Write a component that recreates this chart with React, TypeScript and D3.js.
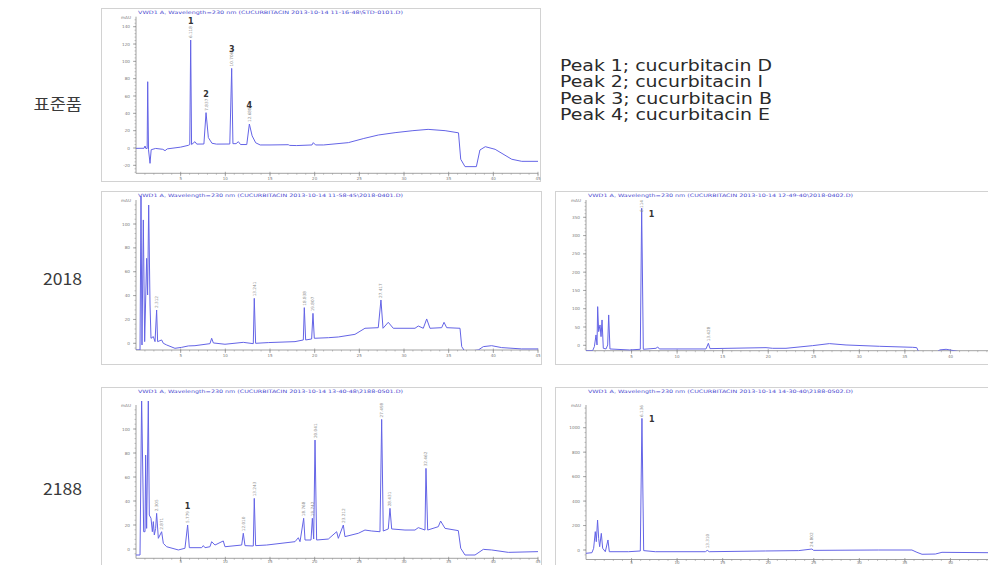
import React from "react";
import * as d3 from "d3";

type Pt = [number, number];
type Peak = [number, number, string, string?, string?];

const timeTicks = [5, 10, 15, 20, 25, 30, 35, 40, 45];

const stdYTicks = [-20, 0, 20, 40, 60, 80, 100, 120, 140];
const a2018YTicks = [0, 20, 40, 60, 80, 100];
const a2188YTicks = [0, 20, 40, 60, 80, 100];
const b2018YTicks = [0, 50, 100, 150, 200, 250, 300, 350];
const b2188YTicks = [0, 200, 400, 600, 800, 1000];

const rowLabels = ["표준품", "2018", "2188"];
const legendLines = [
  "Peak 1; cucurbitacin D",
  "Peak 2; cucurbitacin I",
  "Peak 3; cucurbitacin B",
  "Peak 4; cucurbitacin E",
];

const stdTrace: Pt[] = [
  [0, -0.4], [0.9, -0.3], [1.01, 2.3], [1.1, -0.5], [1.25, -0.5], [1.31, 76.5], [1.4, -2], [1.57, -17.7], [1.7, -2],
  [2.2, -0.5], [3.0, -1.5], [3.25, -3.1], [3.5, -1], [5.0, 1], [5.86, 3.1], [6.02, 4], [6.12, 124.6], [6.22, 4],
  [6.6, 7.3], [6.8, 4.5], [7.6, 4.6], [7.84, 40.8], [8.1, 12], [8.5, 5.5], [9, 4.5], [10.5, 4.6], [10.71, 91.9],
  [10.85, 5], [11.2, 5], [11.46, 7.3], [11.7, 4], [12.4, 4], [12.69, 27.7], [13.0, 14], [13.4, 6], [13.9, 3.5],
  [15, 3.5], [17.05, 3.8], [17.2, 3], [17.99, 2.8], [19.7, 3.5], [19.85, 6.2], [20.1, 3.5], [21, 3.5], [23.77, 6.2],
  [25.5, 11], [27.13, 15], [29.0, 17.7], [31, 20], [32.7, 21.5], [34.6, 20], [36.1, 17.5], [36.35, -13],
  [36.83, -21.5], [38.1, -21.5], [38.5, -2.3], [39.1, 1.5], [40.2, -1.5], [42.06, -13], [43.18, -15.4], [45, -15.4],
];

const a2018Trace: Pt[] = [
  [0, -5.6], [0.45, -5.6], [0.56, 125], [0.67, -1.4], [0.82, 103.4], [0.97, 1.4], [1.19, 71.2], [1.3, 40.5],
  [1.42, 115.9], [1.57, 32.1], [1.68, 4.2], [1.94, 5.6], [2.13, 1.4], [2.31, 27.9], [2.42, 1.4], [2.87, 2.8],
  [3.06, 0], [3.43, -1.4], [4.36, -4.2], [5.11, -3.4], [5.86, -2.2], [6.6, -2], [8.28, -0.3], [8.47, 4.2],
  [8.66, 0.3], [9.96, -0.8], [12.01, 0.8], [13.13, -0.3], [13.24, 37.7], [13.39, 0], [14.81, 0.6], [17.8, 1.4],
  [18.73, 2.8], [18.84, 29.9], [18.99, 2.8], [19.66, 3.6], [19.81, 25.1], [19.96, 4.2], [21.53, 4.7], [22.65, 5.3],
  [24.51, 7.5], [25.63, 12.6], [27.12, 13.1], [27.42, 36.3], [27.65, 12.6], [28.24, 17.6], [28.8, 12.6],
  [31.23, 12.6], [31.6, 14.5], [32.16, 12.6], [32.54, 20.4], [32.91, 12.6], [34.22, 13.1], [34.48, 17.6],
  [34.78, 13.1], [36.27, 12.6], [36.46, -2.8], [36.83, -7], [38.32, -5.6], [38.88, -2.8], [39.81, -2],
  [40.93, -3.6], [43.17, -4.7], [45, -4.7],
];

const a2188Trace: Pt[] = [
  [0, -5], [0.45, -5], [0.63, 126], [0.86, 14.4], [1.01, 14.4], [1.08, 78.3], [1.19, 17.2], [1.38, 124],
  [1.49, 28.3], [1.68, 25.6], [1.83, 14.4], [1.94, 22.8], [2.05, 11.7], [2.2, 17.2], [2.31, 29.7], [2.5, 8.9],
  [2.87, 14.4], [3.06, 4.7], [3.43, 1.9], [4.74, -0.8], [5.48, 0.6], [5.78, 20], [5.97, 1.1], [7.35, 1.1],
  [7.54, 2.8], [7.72, 1.1], [8.28, 1.9], [8.47, 6.1], [8.84, 3.3], [9.77, 6.7], [9.96, 1.9], [11.83, 3.3],
  [12.01, 13.1], [12.2, 2.8], [13.13, 2.5], [13.24, 42.2], [13.39, 2.8], [14.62, 3.3], [17.8, 6.1], [18.17, 9.4],
  [18.36, 6.1], [18.77, 25.6], [18.92, 7.5], [19.59, 7.5], [19.74, 25.6], [19.89, 8.3], [20.04, 90.8], [20.22, 7.5],
  [21.53, 8.3], [22.46, 14.4], [22.65, 8.9], [23.21, 20], [23.39, 10.3], [24.89, 13.1], [25.63, 15.8],
  [26.38, 15], [27.31, 14.4], [27.5, 108], [27.68, 15], [28.24, 16.7], [28.43, 33.9], [28.62, 16.7], [30.11, 15.8],
  [31.23, 15.8], [31.6, 17.8], [32.35, 15.8], [32.46, 67.2], [32.65, 15.8], [33.84, 18.6], [34.1, 23.3],
  [34.59, 17.2], [36.08, 15.3], [36.35, 0.6], [36.83, -5], [37.95, -5], [38.88, -0.3], [39.81, -0.8],
  [41.68, -2.8], [45, -2.2],
];

const b2018Trace: Pt[] = [
  [0, -14.6], [0.73, -14.6], [0.92, -3.6], [1.1, 28.3], [1.21, 0.9], [1.28, 105.7], [1.39, 37.4], [1.54, 55.6],
  [1.65, 23.7], [1.76, 69.3], [1.9, -8.2], [2.2, -10], [2.38, 0.9], [2.49, 83], [2.63, -10], [4.76, -12.8],
  [5.96, -10.9], [6.11, 374.7], [6.29, -10.9], [7.68, -8.2], [7.87, -4.6], [8.05, -10], [13.17, -10], [13.43, 5.5],
  [13.61, -9.1], [19.76, -6.4], [20.49, -8.2], [21.95, -8.2], [24.88, -0.9], [26.71, 4.6], [28.54, 0.9],
  [32.2, -2.7], [35.86, -5.5], [36.3, -6.4], [36.59, -21.9], [37.32, -26.4], [38.24, -26.4], [38.79, -12.8],
  [39.52, -10.9], [40.98, -17.3], [42.44, -23.7], [44.27, -24.6], [45, -24.6],
];

const b2188Trace: Pt[] = [
  [0, -27], [0.65, -22], [0.84, 14], [1.02, 150], [1.13, 68], [1.27, 245], [1.39, 95], [1.5, 27], [1.68, 136],
  [1.83, 14], [2.12, -14], [2.41, 82], [2.56, -14], [4.68, -14], [5.96, -8], [6.14, 1076], [6.33, -5], [7.61, -14],
  [13.1, -14], [13.31, -3], [13.53, -14], [19.68, -8], [23.34, -5], [24.8, 8], [24.98, -3], [32.11, 0], [35.77, 0],
  [36.32, -19], [36.88, -35], [38.34, -33], [39.07, -19], [44.2, -22], [45, -22],
];

const stdPeaks: Peak[] = [
  [6.12, 124.6, "6.118", "1"], [7.84, 40.8, "7.837", "2"], [10.71, 91.9, "10.706", "3"], [12.69, 27.7, "12.688", "4"],
];
const a2018Peaks: Peak[] = [
  [2.31, 27.9, "2.312"], [13.24, 37.7, "13.241"], [18.84, 29.9, "18.838"], [19.81, 25.1, "19.807"], [27.42, 36.3, "27.417"],
];
const a2188Peaks: Peak[] = [
  [2.31, 29.7, "2.305"], [2.87, 14.4, "2.871"], [5.78, 20, "5.779", "1"], [12.01, 13.1, "12.010"], [13.24, 42.2, "13.243"],
  [18.77, 25.6, "18.768"], [19.74, 25.6, "19.742"], [20.04, 90.8, "20.041"], [23.21, 20, "23.212"], [27.5, 108, "27.498"],
  [28.43, 33.9, "28.431"], [32.46, 67.2, "32.462"],
];
const b2018Peaks: Peak[] = [[6.11, 374.7, "6.114", "1", "right"], [13.43, 5.5, "13.428"]];
const b2188Peaks: Peak[] = [[6.14, 1076, "6.136", "1", "right"], [13.31, -3, "13.310"], [24.8, 8, "24.802"]];

const headers = [
  "VWD1 A, Wavelength=230 nm (CUCURBITACIN 2013-10-14 11-16-48\\STD-0101.D)",
  "VWD1 A, Wavelength=230 nm (CUCURBITACIN 2013-10-14 11-58-45\\2018-0401.D)",
  "VWD1 A, Wavelength=230 nm (CUCURBITACIN 2013-10-14 13-40-48\\2188-0501.D)",
  "VWD1 A, Wavelength=230 nm (CUCURBITACIN 2013-10-14 12-49-40\\2018-0402.D)",
  "VWD1 A, Wavelength=230 nm (CUCURBITACIN 2013-10-14 14-30-40\\2188-0502.D)",
];

const TRACE = "#6464e6";
const AXIS = "#8a8a8a";
const LBL = "#7a7a7a";

type PanelCfg = {
  id: string;
  fx: number; fy: number; fw: number; fh: number;
  x0: number; x1: number;
  yZero: number; yRefPx: number; yRefVal: number;
  top: number; bottom: number; labelGap: number;
  data: Pt[]; yTicks: number[]; peaks: Peak[]; header: string;
};

function Panel({ c }: { c: PanelCfg }) {
  const x = d3.scaleLinear().domain([0, 45]).range([c.x0, c.x1]);
  const y = d3.scaleLinear().domain([0, c.yRefVal]).range([c.yZero, c.yRefPx]);
  const line = d3.line<Pt>().x((d) => x(d[0])).y((d) => y(d[1]));
  const minorX = d3.range(1, 46);
  const step = c.yTicks[1] - c.yTicks[0];
  const minorY = d3.range(c.yTicks[0] - step, c.yTicks[c.yTicks.length - 1] + step, step / 5).filter(
    (v) => y(v) <= c.bottom && y(v) >= c.top
  );
  return (
    <g>
      <defs>
        <clipPath id={`clip-${c.id}`}>
          <rect x={c.x0} y={c.top - 4} width={Math.min(c.x1, 988) - c.x0} height={c.bottom - c.top + 4} />
        </clipPath>
      </defs>
      <rect x={c.fx} y={c.fy} width={c.fw} height={c.fh} fill="white" stroke="#d2d2d2" strokeWidth={1} />
      <text x={c.x0 + 2} y={c.fy + 5.5} fontSize={4.6} fill="#4a4ad0" fontFamily="DejaVu Sans" textLength={265} lengthAdjust="spacingAndGlyphs">
        {c.header}
      </text>
      {/* y axis */}
      <line x1={c.x0} x2={c.x0} y1={c.top} y2={c.bottom} stroke={AXIS} strokeWidth={0.8} />
      {minorY.map((v, i) => (
        <line key={`my${i}`} x1={c.x0 - 1.5} x2={c.x0} y1={y(v)} y2={y(v)} stroke={AXIS} strokeWidth={0.5} />
      ))}
      {c.yTicks.map((v) => (
        <g key={`yt${v}`}>
          <line x1={c.x0 - 3} x2={c.x0} y1={y(v)} y2={y(v)} stroke={AXIS} strokeWidth={0.7} />
          <text x={c.x0 - 6} y={y(v) + 1.5} fontSize={4.2} fill={LBL} textAnchor="end" fontFamily="DejaVu Sans">
            {v}
          </text>
        </g>
      ))}
      <text x={c.x0 - 5} y={c.top + 2} fontSize={4.2} fill={LBL} textAnchor="end" fontFamily="DejaVu Sans">
        mAU
      </text>
      {/* x axis */}
      <line x1={c.x0} x2={Math.min(c.x1, 990)} y1={c.bottom} y2={c.bottom} stroke={AXIS} strokeWidth={0.8} />
      {minorX.map((t) => (
        <line key={`mx${t}`} x1={x(t)} x2={x(t)} y1={c.bottom} y2={c.bottom + 1.5} stroke={AXIS} strokeWidth={0.5} />
      ))}
      {timeTicks.filter((t) => x(t) < 985).map((t) => (
        <g key={`xt${t}`}>
          <line x1={x(t)} x2={x(t)} y1={c.bottom - 1.5} y2={c.bottom + 3} stroke={AXIS} strokeWidth={0.7} />
          <text x={x(t)} y={c.bottom + c.labelGap} fontSize={4} fill={LBL} textAnchor="middle" fontFamily="DejaVu Sans">
            {t}
          </text>
        </g>
      ))}
      <g clipPath={`url(#clip-${c.id})`}>
        <path d={line(c.data) || ""} fill="none" stroke={TRACE} strokeWidth={1} strokeLinejoin="round" />
      </g>
      {c.peaks.map((p, i) => {
        const px = x(p[0]);
        const py = Math.max(y(p[1]), c.top + 14);
        const right = p[4] === "right";
        return (
          <g key={`pk${i}`}>
            <text
              transform={`translate(${px + 1.5},${py - 2}) rotate(-90)`}
              fontSize={4.2}
              fill="#8c8c8c"
              fontFamily="DejaVu Sans"
            >
              {p[2]}
            </text>
            {p[3] &&
              (right ? (
                <text x={px + 7} y={py + 3} fontSize={8} fontWeight="bold" fill="#333" fontFamily="DejaVu Sans">
                  {p[3]}
                </text>
              ) : (
                <text x={px} y={py - 16} fontSize={8} fontWeight="bold" fill="#333" textAnchor="middle" fontFamily="DejaVu Sans">
                  {p[3]}
                </text>
              ))}
          </g>
        );
      })}
    </g>
  );
}

export default function App() {
  const panels: PanelCfg[] = [
    { id: "p1", fx: 101.5, fy: 8.5, fw: 439, fh: 173, x0: 136, x1: 538, yZero: 148, yRefPx: 26.7, yRefVal: 140, top: 16.7, bottom: 173.3, labelGap: 7, data: stdTrace, yTicks: stdYTicks, peaks: stdPeaks, header: headers[0] },
    { id: "p2", fx: 101.5, fy: 191.5, fw: 440, fh: 173, x0: 136, x1: 538, yZero: 343.3, yRefPx: 224, yRefVal: 100, top: 200, bottom: 350, labelGap: 7, data: a2018Trace, yTicks: a2018YTicks, peaks: a2018Peaks, header: headers[1] },
    { id: "p3", fx: 101.5, fy: 387.5, fw: 440, fh: 190, x0: 136, x1: 538, yZero: 549, yRefPx: 429, yRefVal: 100, top: 405, bottom: 558.3, labelGap: 5, data: a2188Trace, yTicks: a2188YTicks, peaks: a2188Peaks, header: headers[2] },
    { id: "p4", fx: 555.5, fy: 191.5, fw: 450, fh: 173, x0: 586, x1: 996, yZero: 345.3, yRefPx: 217.3, yRefVal: 350, top: 200, bottom: 350.7, labelGap: 7, data: b2018Trace, yTicks: b2018YTicks, peaks: b2018Peaks, header: headers[3] },
    { id: "p5", fx: 555.5, fy: 387.5, fw: 450, fh: 190, x0: 586, x1: 996, yZero: 550, yRefPx: 427.7, yRefVal: 1000, top: 405, bottom: 559.5, labelGap: 4.5, data: b2188Trace, yTicks: b2188YTicks, peaks: b2188Peaks, header: headers[4] },
  ];
  const rowY = [110, 285, 495];
  return (
    <svg width={988} height={565} style={{ position: "absolute", left: 0, top: 0, background: "white" }}>
      <rect x={0} y={0} width={988} height={565} fill="white" />
      {panels.map((p) => (
        <Panel key={p.id} c={p} />
      ))}
      {rowLabels.map((t, i) => (
        <text
          key={t}
          transform={`translate(82,${rowY[i]}) scale(1.1,1)`}
          fontSize={16}
          fill="#3a3a3a"
          textAnchor="end"
          fontFamily="'Noto Sans CJK KR', 'DejaVu Sans', sans-serif"
        >
          {t}
        </text>
      ))}
      {legendLines.map((t, i) => (
        <text
          key={t}
          x={560}
          y={70.7 + i * 16.4}
          fontSize={15}
          fill="#2a2a2a"
          fontFamily="'DejaVu Sans', sans-serif"
          textLength={[212, 203, 212, 210][i]}
          lengthAdjust="spacingAndGlyphs"
        >
          {t}
        </text>
      ))}
    </svg>
  );
}
